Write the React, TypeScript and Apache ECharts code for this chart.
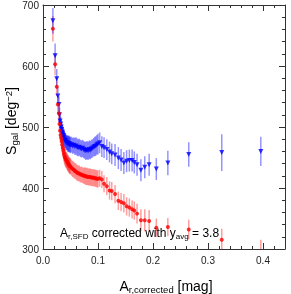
import React, { useEffect, useRef } from "react";
import * as echarts from "echarts";

const xs = [0.018,0.022,0.025,0.027,0.029,0.030,0.031,0.032,0.033,0.034,
0.035,0.036,0.037,0.038,0.039,0.040,0.041,0.042,0.043,0.044,
0.045,0.046,0.047,0.048,0.049,0.050,0.052,0.054,0.056,0.058,
0.060,0.062,0.064,0.066,0.068,0.070,0.072,0.074,0.076,0.078,
0.080,0.082,0.084,0.086,0.088,0.090,0.092,0.094,0.096,0.098,
0.100,0.103,0.107,0.111,0.116,0.121,0.125,0.131,0.137,0.142,
0.147,0.152,0.157,0.162,0.166,0.171,0.178,0.185,0.193,0.206,
0.227,0.265,0.325,0.396];

const blueVals = [674,617,579,551,537,520,510,505,500,496,
492,489,486,483,480,478,477,475,474,474,
473,472,473,471,472,470,471,469,470,468,
469,467,466,467,465,464,465,463,462,461,
462,461,463,462,464,465,467,468,469,471,
472,474,468,466,463,459,456,454,449,446,
441,444,445,445,442,438,429,434,438,431,
441,455,458,460];

const blueErr = [21,20,16,14,13,12,12,12,12,12,
12,12,12,12,12,12,12,12,12,12,
13,13,13,13,13,13,13,13,13,14,
14,14,14,14,14,14,14,14,14,15,
15,15,15,15,15,15,15,16,16,16,
17,17,17,17,17,17,17,18,18,18,
18,18,18,18,18,18,18,18,18,18,
20,20,30,24];

const redVals = [661,603,566,537,522,505,494,487,482,477,
471,466,462,457,453,450,448,446,445,443,
441,440,438,437,436,435,433,431,430,428,
427,425,424,424,422,422,421,420,420,419,
419,418,418,418,417,417,417,416,416,415,
415,416,414,407,403,396,395,390,379,377,
375,370,368,365,363,358,347,347,346,335,
336,332,315,292];

const redErr = [21,18,15,14,13,13,13,13,13,13,
13,13,13,13,13,13,13,13,13,13,
13,13,13,13,13,13,13,13,13,13,
13,13,13,13,13,13,13,13,14,14,
14,14,14,14,14,14,14,14,14,14,
14,14,14,14,15,15,15,15,15,15,
15,15,15,15,15,16,18,18,18,15,
15,16,18,23];

const xTicksMajor = { min: 0, max: 0.44, interval: 0.1 };
const xTicksMinor = { min: 0, max: 0.44, interval: 0.02 };
const yTicks = { min: 300, max: 700, interval: 100 };

const FONT = "Liberation Sans, Arial, Helvetica, sans-serif";
const AXIS_COLOR = "#333";

function errRender(color: string) {
  return (params: any, api: any) => {
    const x = api.value(0);
    const y = api.value(1);
    const e = api.value(2);
    const p1 = api.coord([x, y + e]);
    const p2 = api.coord([x, y - e]);
    return {
      type: "line",
      shape: { x1: p1[0], y1: p1[1], x2: p2[0], y2: p2[1] },
      style: { stroke: color, lineWidth: 1.5 },
    };
  };
}

export default function App() {
  const ref = useRef<HTMLDivElement>(null);
  useEffect(() => {
    if (!ref.current) return;
    const chart = echarts.init(ref.current, null, { renderer: "svg" });
    const xBase = (pos: string, major: boolean, labels: boolean) => ({
      type: "value",
      position: pos,
      ...(major ? xTicksMajor : xTicksMinor),
      axisLine: { show: major, onZero: false, lineStyle: { color: AXIS_COLOR, width: 1 } },
      axisTick: { show: true, inside: true, length: major ? 6 : 3, lineStyle: { color: AXIS_COLOR } },
      axisLabel: labels
        ? { show: true, fontSize: 10, color: "#222", fontFamily: FONT, margin: 6, showMaxLabel: false, formatter: (v: number) => v.toFixed(1) }
        : { show: false },
      splitLine: { show: false },
    });
    const yBase = (pos: string, labels: boolean) => ({
      type: "value",
      position: pos,
      ...yTicks,
      axisLine: { show: true, onZero: false, lineStyle: { color: AXIS_COLOR, width: 1 } },
      axisTick: { show: true, inside: true, length: 6, lineStyle: { color: AXIS_COLOR } },
      minorTick: { show: true, splitNumber: 5, length: 3, lineStyle: { color: AXIS_COLOR } },
      axisLabel: labels
        ? { show: true, fontSize: 10, color: "#222", fontFamily: FONT, margin: 4 }
        : { show: false },
      splitLine: { show: false },
      minorSplitLine: { show: false },
    });

    const option: any = {
      animation: false,
      grid: { left: 43, top: 4, right: 6, bottom: 45, containLabel: false },
      xAxis: [
        xBase("bottom", true, true),
        xBase("bottom", false, false),
        xBase("top", true, false),
        xBase("top", false, false),
      ],
      yAxis: [yBase("left", true), yBase("right", false)],
      series: [
        {
          type: "custom",
          xAxisIndex: 0,
          yAxisIndex: 0,
          clip: true,
          renderItem: errRender("rgba(255,0,0,0.38)"),
          encode: { x: 0, y: 1 },
          data: xs.map((x, i) => [x, redVals[i], redErr[i]]),
          z: 1,
        },
        {
          type: "custom",
          xAxisIndex: 0,
          yAxisIndex: 0,
          clip: true,
          renderItem: errRender("rgba(0,0,255,0.42)"),
          encode: { x: 0, y: 1 },
          data: xs.map((x, i) => [x, blueVals[i], blueErr[i]]),
          z: 2,
        },
        {
          type: "scatter",
          xAxisIndex: 0,
          yAxisIndex: 0,
          clip: true,
          symbol: "triangle",
          symbolRotate: 180,
          symbolSize: 5,
          itemStyle: { color: "#0000ff" },
          data: xs.map((x, i) => [x, blueVals[i]]),
          z: 3,
        },
        {
          type: "scatter",
          xAxisIndex: 0,
          yAxisIndex: 0,
          clip: true,
          symbol: "circle",
          symbolSize: 4,
          itemStyle: { color: "#ff0000" },
          data: xs.map((x, i) => [x, redVals[i]]),
          z: 4,
        },
      ],
      graphic: [
        {
          type: "text",
          left: 60,
          top: 227,
          z: 10,
          style: {
            text: "{m|A}{s|r,SFD}{m| corrected with y}{s|avg}{m| = 3.8}",
            rich: {
              m: { fontSize: 12, fontFamily: FONT, fill: "#000", lineHeight: 14 },
              s: { fontSize: 8, fontFamily: FONT, fill: "#000", lineHeight: 6, verticalAlign: "bottom" },
            },
          },
        },
        {
          type: "text",
          x: 166,
          y: 286,
          z: 10,
          style: {
            text: "{m|A}{s|r,corrected}{m| [mag]}",
            align: "center",
            verticalAlign: "middle",
            rich: {
              m: { fontSize: 14, fontFamily: FONT, fill: "#000", lineHeight: 16 },
              s: { fontSize: 9.5, fontFamily: FONT, fill: "#000", lineHeight: 6, verticalAlign: "bottom" },
            },
          },
        },
        {
          type: "text",
          x: 11,
          y: 121,
          rotation: Math.PI / 2,
          z: 10,
          style: {
            text: "{m|S}{s|gal}{m| [deg}{u|−2}{m|]}",
            align: "center",
            verticalAlign: "middle",
            rich: {
              m: { fontSize: 14, fontFamily: FONT, fill: "#000", lineHeight: 16 },
              s: { fontSize: 9.5, fontFamily: FONT, fill: "#000", lineHeight: 6, verticalAlign: "bottom" },
              u: { fontSize: 9.5, fontFamily: FONT, fill: "#000", lineHeight: 6, verticalAlign: "top" },
            },
          },
        },
      ],
    };
    chart.setOption(option);
    return () => chart.dispose();
  }, []);
  return (
    <div
      ref={ref}
      style={{ position: "fixed", left: 0, top: 0, width: 291, height: 294 }}
    />
  );
}
